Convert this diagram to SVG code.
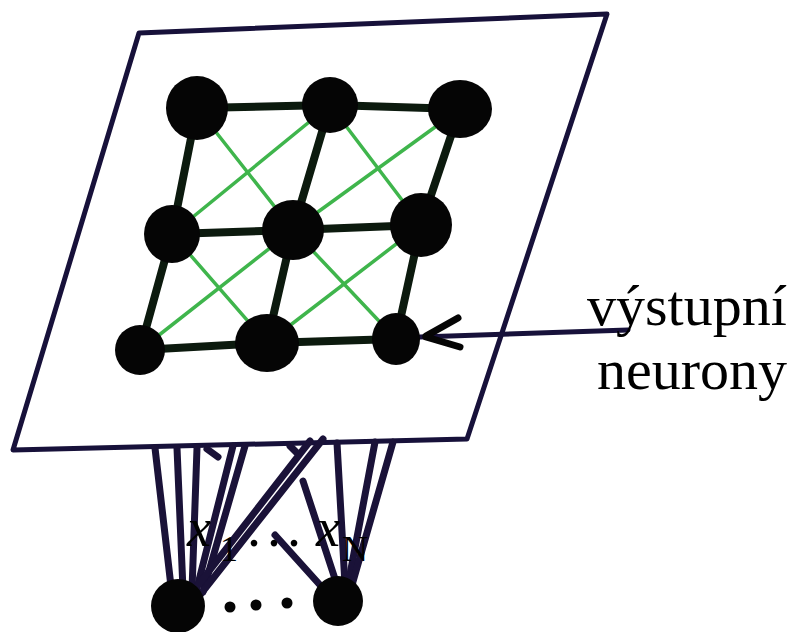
<svg xmlns="http://www.w3.org/2000/svg" width="796" height="632" viewBox="0 0 796 632">
<style>
.frame{fill:none;stroke:#17113a;stroke-width:5;stroke-linejoin:round;stroke-linecap:round}
.edge{stroke:#0c1a0e;stroke-width:8;stroke-linecap:round}
.diag{stroke:#3fb54c;stroke-width:3.5;stroke-linecap:round}
.wire{stroke:#1a1238;stroke-width:7;stroke-linecap:round}
.node{fill:#050505}
.lbl{font-family:"Liberation Serif","Times New Roman",serif;font-size:58px;fill:#000}
.it{font-family:"Liberation Serif","Times New Roman",serif;font-style:italic;font-size:54px;fill:#000}
.sub{font-family:"Liberation Serif","Times New Roman",serif;font-size:36px;fill:#000}
.dt{font-family:"Liberation Serif","Times New Roman",serif;font-size:56px;fill:#000}
</style>
<rect width="796" height="632" fill="#ffffff"/>
<g id="plane">
<polygon class="frame" points="139,33 607,14 467,439 13,450"/>
</g>
<g id="connectors">
<g id="grid-diagonals">
<line class="diag" x1="197" y1="108" x2="293" y2="230"/>
<line class="diag" x1="330" y1="105" x2="172" y2="234"/>
<line class="diag" x1="330" y1="105" x2="421" y2="225"/>
<line class="diag" x1="460" y1="109" x2="293" y2="230"/>
<line class="diag" x1="172" y1="234" x2="267" y2="343"/>
<line class="diag" x1="293" y1="230" x2="140" y2="350"/>
<line class="diag" x1="293" y1="230" x2="396" y2="339"/>
<line class="diag" x1="421" y1="225" x2="267" y2="343"/>
</g>
<g id="grid-edges">
<polyline class="edge" fill="none" points="197,108 330,105 460,109"/>
<polyline class="edge" fill="none" points="172,234 293,230 421,225"/>
<polyline class="edge" fill="none" points="140,350 267,343 396,339"/>
<polyline class="edge" fill="none" points="197,108 172,234 140,350"/>
<polyline class="edge" fill="none" points="330,105 293,230 267,343"/>
<polyline class="edge" fill="none" points="460,109 421,225 396,339"/>
</g>
<g id="arrow">
<line x1="628" y1="330" x2="420" y2="337" stroke="#17113a" stroke-width="5" stroke-linecap="round"/>
<line x1="458" y1="318" x2="426" y2="336" stroke="#050505" stroke-width="7" stroke-linecap="round"/>
<line x1="460" y1="347" x2="426" y2="337" stroke="#050505" stroke-width="7" stroke-linecap="round"/>
</g>
<g id="input-wires">
<line class="wire" x1="155" y1="448" x2="172" y2="595"/>
<line class="wire" x1="177" y1="448" x2="183" y2="590"/>
<line class="wire" x1="197" y1="448" x2="192" y2="590"/>
<line class="wire" x1="233" y1="446" x2="196" y2="592"/>
<line class="wire" x1="245" y1="446" x2="203" y2="592"/>
<line class="wire" x1="310" y1="441" x2="188" y2="598"/>
<line class="wire" x1="323" y1="439" x2="196" y2="600"/>
<line class="wire" x1="207" y1="449" x2="218" y2="457"/>
<line class="wire" x1="290" y1="446" x2="296" y2="452"/>
<line class="wire" x1="303" y1="481" x2="337" y2="585"/>
<line class="wire" x1="275" y1="535" x2="320" y2="585"/>
<line class="wire" x1="337" y1="443" x2="345" y2="585"/>
<line class="wire" x1="375" y1="442" x2="348" y2="585"/>
<line class="wire" x1="393" y1="442" x2="352" y2="585"/>
</g>
</g>
<g id="output-nodes">
<ellipse class="node" cx="197" cy="108" rx="31" ry="32"/>
<ellipse class="node" cx="330" cy="105" rx="28" ry="28"/>
<ellipse class="node" cx="460" cy="109" rx="32" ry="29"/>
<ellipse class="node" cx="172" cy="234" rx="28" ry="29"/>
<ellipse class="node" cx="293" cy="230" rx="31" ry="30"/>
<ellipse class="node" cx="421" cy="225" rx="31" ry="32"/>
<ellipse class="node" cx="140" cy="350" rx="25" ry="25"/>
<ellipse class="node" cx="267" cy="343" rx="32" ry="29"/>
<ellipse class="node" cx="396" cy="339" rx="24" ry="26"/>
</g>
<g id="input-nodes">
<circle class="node" cx="178" cy="606" r="27"/>
<circle class="node" cx="338" cy="601" r="25"/>
<circle class="node" cx="230" cy="607" r="5.5"/>
<circle class="node" cx="256" cy="605" r="5.5"/>
<circle class="node" cx="287" cy="603" r="5.5"/>
</g>
<g id="labels">
<text class="lbl" x="587" y="325">výstupní</text>
<text class="lbl" x="597" y="389">neurony</text>
<text class="it" x="187" y="546">x</text>
<text class="sub" x="220" y="561">1</text>
<text class="dt" x="247" y="546">.</text>
<text class="dt" x="267" y="546">.</text>
<text class="dt" x="287" y="546">.</text>
<text class="it" x="316" y="546">x</text>
<text class="sub" x="342" y="561">N</text>
</g>
</svg>
